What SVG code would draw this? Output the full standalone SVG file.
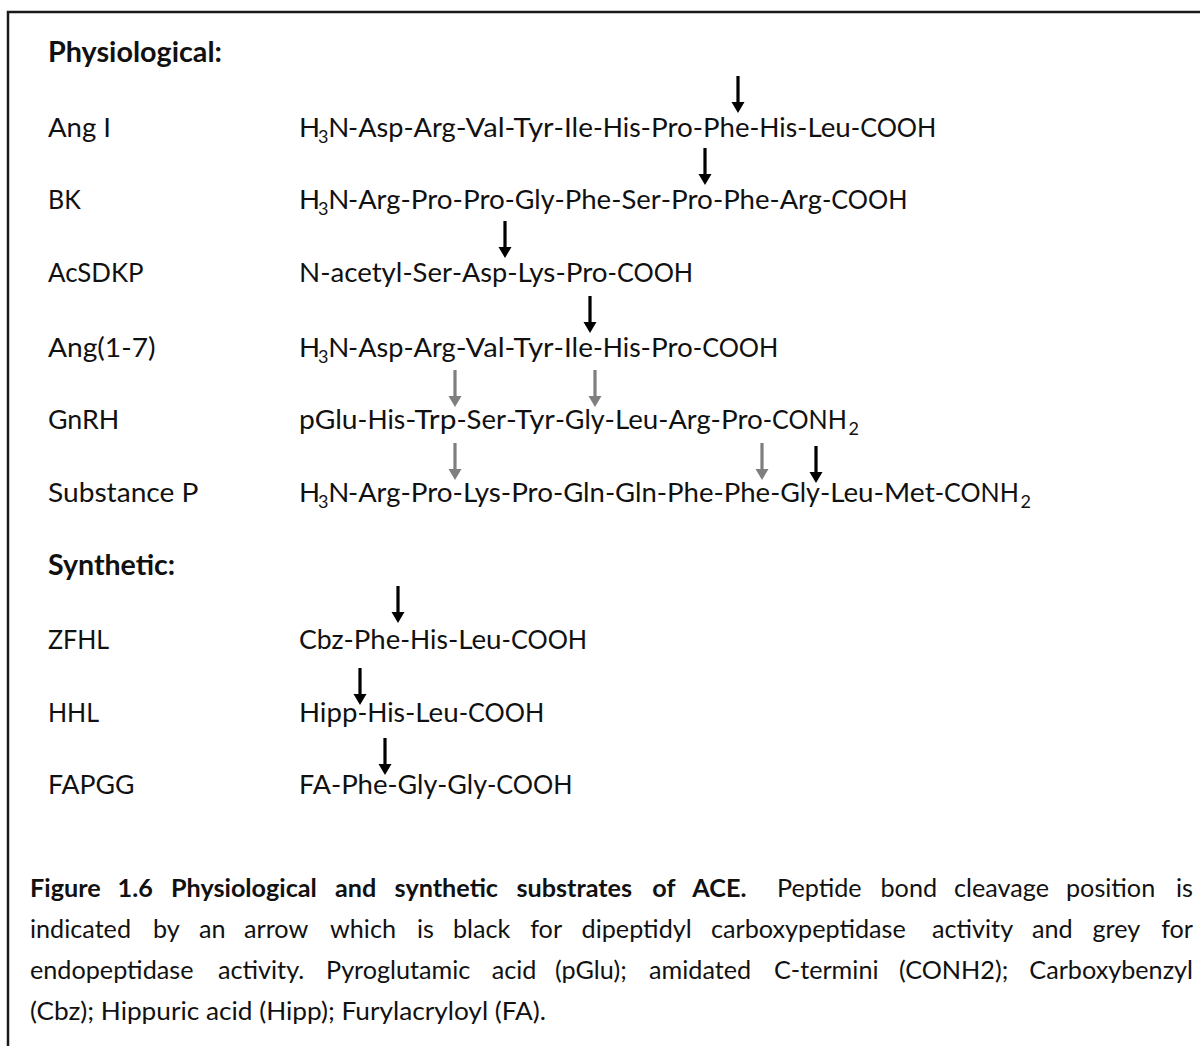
<svg xmlns="http://www.w3.org/2000/svg" xmlns:xlink="http://www.w3.org/1999/xlink" width="1200" height="1046" viewBox="0 0 1200 1046">
<style>
.t{font-family:Lato,'Open Sans','Liberation Sans',sans-serif;fill:#111}
.b{font-size:27.6px}
.h{font-weight:700}
.sub{font-size:18px}
.cap{font-size:25.2px}
.k{fill:#000}
.g{fill:#7f7f7f}
</style>
<defs>
<path id="ar" d="M-1.6,-37 H1.6 V-11 H6.5 L0,0 L-6.5,-11 H-1.6 Z"/>
</defs>
<rect x="8" y="12" width="1200" height="1050" fill="#fff" stroke="#1a1a1a" stroke-width="2.5"/>

<g id="hdr-physiological"><text class="t b h" x="48" y="62" textLength="174" lengthAdjust="spacingAndGlyphs">Physiological:</text></g>

<g id="row-angI">
<text class="t b" x="48" y="137" textLength="63" lengthAdjust="spacingAndGlyphs">Ang I</text>
<text class="t b" y="137"><tspan x="299">H</tspan><tspan class="sub" x="318.1" dy="6">3</tspan><tspan x="328.2" dy="-6">N</tspan><tspan x="348.1" textLength="55.3" lengthAdjust="spacingAndGlyphs">-Asp</tspan><tspan x="403.4" textLength="52.3" lengthAdjust="spacingAndGlyphs">-Arg</tspan><tspan x="455.7" textLength="48.9" lengthAdjust="spacingAndGlyphs">-Val</tspan><tspan x="504.6" textLength="49" lengthAdjust="spacingAndGlyphs">-Tyr</tspan><tspan x="553.6" textLength="39.4" lengthAdjust="spacingAndGlyphs">-Ile</tspan><tspan x="593" textLength="47.6" lengthAdjust="spacingAndGlyphs">-His</tspan><tspan x="640.6" textLength="52.2" lengthAdjust="spacingAndGlyphs">-Pro</tspan><tspan x="692.8" textLength="56.7" lengthAdjust="spacingAndGlyphs">-Phe</tspan><tspan x="749.5" textLength="47.6" lengthAdjust="spacingAndGlyphs">-His</tspan><tspan x="797.1" textLength="53.7" lengthAdjust="spacingAndGlyphs">-Leu</tspan><tspan x="850.8" textLength="85.5" lengthAdjust="spacingAndGlyphs">-COOH</tspan></text>
</g>

<g id="row-BK">
<text class="t b" x="48" y="209" textLength="32.7" lengthAdjust="spacingAndGlyphs">BK</text>
<text class="t b" y="209"><tspan x="299">H</tspan><tspan class="sub" x="318.1" dy="6">3</tspan><tspan x="328.2" dy="-6">N</tspan><tspan x="348.1" textLength="52.3" lengthAdjust="spacingAndGlyphs">-Arg</tspan><tspan x="400.4" textLength="52.2" lengthAdjust="spacingAndGlyphs">-Pro</tspan><tspan x="452.6" textLength="52.2" lengthAdjust="spacingAndGlyphs">-Pro</tspan><tspan x="504.8" textLength="49.7" lengthAdjust="spacingAndGlyphs">-Gly</tspan><tspan x="554.5" textLength="56.7" lengthAdjust="spacingAndGlyphs">-Phe</tspan><tspan x="611.2" textLength="49.5" lengthAdjust="spacingAndGlyphs">-Ser</tspan><tspan x="660.7" textLength="52.2" lengthAdjust="spacingAndGlyphs">-Pro</tspan><tspan x="712.9" textLength="56.7" lengthAdjust="spacingAndGlyphs">-Phe</tspan><tspan x="769.6" textLength="52.3" lengthAdjust="spacingAndGlyphs">-Arg</tspan><tspan x="821.9" textLength="85.5" lengthAdjust="spacingAndGlyphs">-COOH</tspan></text>
</g>

<g id="row-AcSDKP">
<text class="t b" x="48" y="282" textLength="95.6" lengthAdjust="spacingAndGlyphs">AcSDKP</text>
<text class="t b" y="282"><tspan x="299" textLength="103.4" lengthAdjust="spacingAndGlyphs">N-acetyl</tspan><tspan x="402.4" textLength="49.5" lengthAdjust="spacingAndGlyphs">-Ser</tspan><tspan x="451.9" textLength="55.3" lengthAdjust="spacingAndGlyphs">-Asp</tspan><tspan x="507.2" textLength="48.2" lengthAdjust="spacingAndGlyphs">-Lys</tspan><tspan x="555.4" textLength="52.2" lengthAdjust="spacingAndGlyphs">-Pro</tspan><tspan x="607.6" textLength="85.5" lengthAdjust="spacingAndGlyphs">-COOH</tspan></text>
</g>

<g id="row-Ang1-7">
<text class="t b" x="48" y="357" textLength="107.5" lengthAdjust="spacingAndGlyphs">Ang(1-7)</text>
<text class="t b" y="357"><tspan x="299">H</tspan><tspan class="sub" x="318.1" dy="6">3</tspan><tspan x="328.2" dy="-6">N</tspan><tspan x="348.1" textLength="55.3" lengthAdjust="spacingAndGlyphs">-Asp</tspan><tspan x="403.4" textLength="52.3" lengthAdjust="spacingAndGlyphs">-Arg</tspan><tspan x="455.7" textLength="48.9" lengthAdjust="spacingAndGlyphs">-Val</tspan><tspan x="504.6" textLength="49" lengthAdjust="spacingAndGlyphs">-Tyr</tspan><tspan x="553.6" textLength="39.4" lengthAdjust="spacingAndGlyphs">-Ile</tspan><tspan x="593" textLength="47.6" lengthAdjust="spacingAndGlyphs">-His</tspan><tspan x="640.6" textLength="52.2" lengthAdjust="spacingAndGlyphs">-Pro</tspan><tspan x="692.8" textLength="85.5" lengthAdjust="spacingAndGlyphs">-COOH</tspan></text>
</g>

<g id="row-GnRH">
<text class="t b" x="48" y="429" textLength="71.3" lengthAdjust="spacingAndGlyphs">GnRH</text>
<text class="t b" y="429"><tspan x="299" textLength="58.6" lengthAdjust="spacingAndGlyphs">pGlu</tspan><tspan x="357.6" textLength="47.6" lengthAdjust="spacingAndGlyphs">-His</tspan><tspan x="405.2" textLength="51.2" lengthAdjust="spacingAndGlyphs">-Trp</tspan><tspan x="456.4" textLength="49.5" lengthAdjust="spacingAndGlyphs">-Ser</tspan><tspan x="505.9" textLength="49" lengthAdjust="spacingAndGlyphs">-Tyr</tspan><tspan x="554.9" textLength="49.7" lengthAdjust="spacingAndGlyphs">-Gly</tspan><tspan x="604.6" textLength="53.7" lengthAdjust="spacingAndGlyphs">-Leu</tspan><tspan x="658.3" textLength="52.3" lengthAdjust="spacingAndGlyphs">-Arg</tspan><tspan x="710.6" textLength="52.2" lengthAdjust="spacingAndGlyphs">-Pro</tspan><tspan x="762.8" textLength="84" lengthAdjust="spacingAndGlyphs">-CONH</tspan><tspan class="sub" x="848.6" dy="6">2</tspan></text>
</g>

<g id="row-SubstanceP">
<text class="t b" x="48" y="502" textLength="150.5" lengthAdjust="spacingAndGlyphs">Substance P</text>
<text class="t b" y="502"><tspan x="299">H</tspan><tspan class="sub" x="318.1" dy="6">3</tspan><tspan x="328.2" dy="-6">N</tspan><tspan x="348.1" textLength="52.3" lengthAdjust="spacingAndGlyphs">-Arg</tspan><tspan x="400.4" textLength="52.2" lengthAdjust="spacingAndGlyphs">-Pro</tspan><tspan x="452.6" textLength="48.2" lengthAdjust="spacingAndGlyphs">-Lys</tspan><tspan x="500.8" textLength="52.2" lengthAdjust="spacingAndGlyphs">-Pro</tspan><tspan x="553" textLength="51.9" lengthAdjust="spacingAndGlyphs">-Gln</tspan><tspan x="604.9" textLength="51.9" lengthAdjust="spacingAndGlyphs">-Gln</tspan><tspan x="656.8" textLength="56.7" lengthAdjust="spacingAndGlyphs">-Phe</tspan><tspan x="713.5" textLength="56.7" lengthAdjust="spacingAndGlyphs">-Phe</tspan><tspan x="770.2" textLength="49.7" lengthAdjust="spacingAndGlyphs">-Gly</tspan><tspan x="819.9" textLength="53.7" lengthAdjust="spacingAndGlyphs">-Leu</tspan><tspan x="873.6" textLength="61.2" lengthAdjust="spacingAndGlyphs">-Met</tspan><tspan x="934.8" textLength="84" lengthAdjust="spacingAndGlyphs">-CONH</tspan><tspan class="sub" x="1020.6" dy="6">2</tspan></text>
</g>

<g id="hdr-synthetic"><text class="t b h" x="48" y="575" textLength="127.2" lengthAdjust="spacingAndGlyphs">Synthetic:</text></g>

<g id="row-ZFHL">
<text class="t b" x="48" y="649" textLength="61.1" lengthAdjust="spacingAndGlyphs">ZFHL</text>
<text class="t b" y="649"><tspan x="299" textLength="44.6" lengthAdjust="spacingAndGlyphs">Cbz</tspan><tspan x="343.6" textLength="56.7" lengthAdjust="spacingAndGlyphs">-Phe</tspan><tspan x="400.3" textLength="47.6" lengthAdjust="spacingAndGlyphs">-His</tspan><tspan x="447.9" textLength="53.7" lengthAdjust="spacingAndGlyphs">-Leu</tspan><tspan x="501.6" textLength="85.5" lengthAdjust="spacingAndGlyphs">-COOH</tspan></text>
</g>

<g id="row-HHL">
<text class="t b" x="48" y="722" textLength="51.1" lengthAdjust="spacingAndGlyphs">HHL</text>
<text class="t b" y="722"><tspan x="299" textLength="58.4" lengthAdjust="spacingAndGlyphs">Hipp</tspan><tspan x="357.4" textLength="47.6" lengthAdjust="spacingAndGlyphs">-His</tspan><tspan x="405" textLength="53.7" lengthAdjust="spacingAndGlyphs">-Leu</tspan><tspan x="458.7" textLength="85.5" lengthAdjust="spacingAndGlyphs">-COOH</tspan></text>
</g>

<g id="row-FAPGG">
<text class="t b" x="48" y="794" textLength="86.5" lengthAdjust="spacingAndGlyphs">FAPGG</text>
<text class="t b" y="794"><tspan x="299" textLength="31.9" lengthAdjust="spacingAndGlyphs">FA</tspan><tspan x="330.9" textLength="56.7" lengthAdjust="spacingAndGlyphs">-Phe</tspan><tspan x="387.6" textLength="49.7" lengthAdjust="spacingAndGlyphs">-Gly</tspan><tspan x="437.3" textLength="49.7" lengthAdjust="spacingAndGlyphs">-Gly</tspan><tspan x="487" textLength="85.5" lengthAdjust="spacingAndGlyphs">-COOH</tspan></text>
</g>

<g id="arrows">
<use xlink:href="#ar" href="#ar" class="k" x="738" y="113"/>
<use xlink:href="#ar" href="#ar" class="k" x="705" y="185"/>
<use xlink:href="#ar" href="#ar" class="k" x="505" y="258"/>
<use xlink:href="#ar" href="#ar" class="k" x="590" y="333"/>
<use xlink:href="#ar" href="#ar" class="g" x="455" y="407"/>
<use xlink:href="#ar" href="#ar" class="g" x="595" y="407"/>
<use xlink:href="#ar" href="#ar" class="g" x="455" y="480"/>
<use xlink:href="#ar" href="#ar" class="g" x="762" y="480"/>
<use xlink:href="#ar" href="#ar" class="k" x="816" y="483"/>
<use xlink:href="#ar" href="#ar" class="k" x="398" y="623"/>
<use xlink:href="#ar" href="#ar" class="k" x="360" y="705"/>
<use xlink:href="#ar" href="#ar" class="k" x="385" y="775"/>
</g>

<g id="caption">
<text class="t cap" y="897"><tspan class="h" x="30">Figure</tspan><tspan class="h" x="117.6">1.6</tspan><tspan class="h" x="171">Physiological</tspan><tspan class="h" x="335">and</tspan><tspan class="h" x="394.6">synthetic</tspan><tspan class="h" x="516.4">substrates</tspan><tspan class="h" x="652.3">of</tspan><tspan class="h" x="692.3">ACE.</tspan><tspan x="777">Peptide</tspan><tspan x="880.5">bond</tspan><tspan x="954">cleavage</tspan><tspan x="1066">position</tspan></text>
<text class="t cap" x="1193" y="897" text-anchor="end">is</text>
<text class="t cap" y="938"><tspan x="30">indicated</tspan><tspan x="153.1">by</tspan><tspan x="199">an</tspan><tspan x="244">arrow</tspan><tspan x="330">which</tspan><tspan x="417">is</tspan><tspan x="452.9">black</tspan><tspan x="530.2">for</tspan><tspan x="581.6">dipeptidyl</tspan><tspan x="711">carboxypeptidase</tspan><tspan x="932">activity</tspan><tspan x="1032">and</tspan><tspan x="1092.5">grey</tspan></text>
<text class="t cap" x="1193" y="938" text-anchor="end">for</text>
<text class="t cap" y="979"><tspan x="30">endopeptidase</tspan><tspan x="218">activity.</tspan><tspan x="326">Pyroglutamic</tspan><tspan x="491.7">acid</tspan><tspan x="555">(pGlu);</tspan><tspan x="649">amidated</tspan><tspan x="774">C-termini</tspan><tspan x="899">(CONH2);</tspan></text>
<text class="t cap" x="1193" y="979" text-anchor="end">Carboxybenzyl</text>
<text class="t cap" x="30" y="1020" textLength="516" lengthAdjust="spacingAndGlyphs">(Cbz); Hippuric acid (Hipp); Furylacryloyl (FA).</text>
</g>
</svg>
